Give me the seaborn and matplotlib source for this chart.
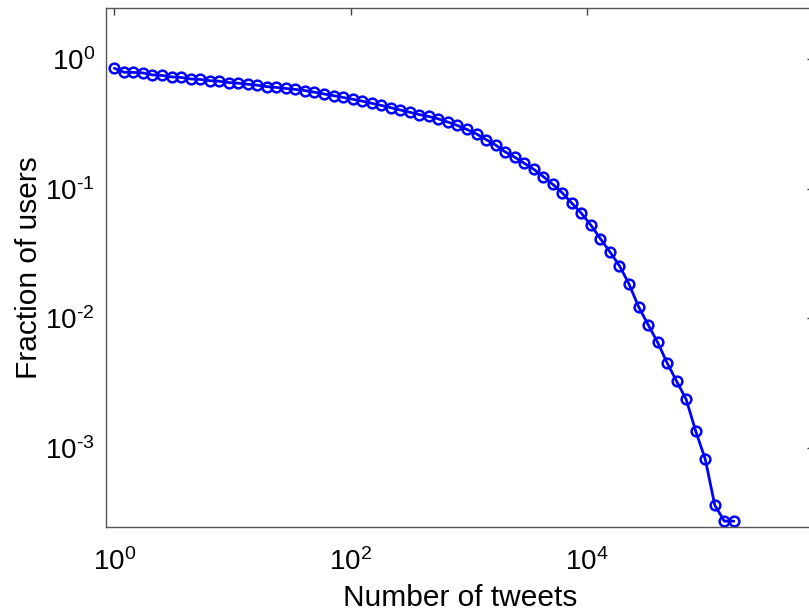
import numpy as np
import pandas as pd
import matplotlib
matplotlib.use("Agg")
from matplotlib import pyplot as plt
from matplotlib.ticker import LogLocator, NullLocator, FuncFormatter
import seaborn as sns

# number of tweets (bin centres, log spaced) and fraction of users
tweets = [1, 1.204, 1.450, 1.746, 2.102, 2.532, 3.049, 3.672, 4.421, 5.324,
          6.412, 7.721, 9.298, 11.20, 13.48, 16.24, 19.55, 23.55, 28.36, 34.15,
          41.11, 49.52, 59.63, 71.81, 86.48, 104.1, 125.4, 151.0, 181.8, 219.0,
          263.6, 317.5, 382.3, 460.4, 554.4, 667.7, 804.0, 968.1, 1166, 1404,
          1690, 2036, 2452, 2952, 3555, 4281, 5155, 6208, 7476, 9001,
          10840, 13050, 15720, 18930, 22790, 27450, 33050, 39800, 47930, 57720,
          69500, 83700, 100800, 121400, 146200, 176000]
fraction = [0.848, 0.790, 0.787, 0.780, 0.753, 0.746, 0.727, 0.720, 0.701, 0.695,
            0.680, 0.673, 0.657, 0.650, 0.638, 0.627, 0.611, 0.603, 0.592, 0.582,
            0.570, 0.554, 0.537, 0.521, 0.505, 0.489, 0.473, 0.455, 0.438, 0.421,
            0.404, 0.388, 0.372, 0.360, 0.345, 0.326, 0.307, 0.286, 0.264, 0.239,
            0.217, 0.192, 0.175, 0.157, 0.141, 0.124, 0.108, 0.0927, 0.0772, 0.0646,
            0.0523, 0.0411, 0.0325, 0.0254, 0.0184, 0.0123, 0.00894, 0.00654, 0.00453, 0.00327,
            0.00237, 0.00135, 0.000820, 0.000362, 0.000273, 0.000273]

df = pd.DataFrame({"tweets": tweets, "fraction": fraction})

sns.set_style("white")
plt.rcParams["font.family"] = ["Liberation Sans", "DejaVu Sans"]
plt.rcParams["mathtext.fontset"] = "custom"
plt.rcParams["mathtext.rm"] = "Liberation Sans"
plt.rcParams["mathtext.it"] = "Liberation Sans"


def pow10(v, pos):
    e = int(round(np.log10(v)))
    s = str(e).replace("-", "\u2010")
    return "$10^{" + s + "}$"


fig = plt.figure(figsize=(8.09, 6.14), dpi=100)
ax = fig.add_axes([106 / 809, 87 / 614, 708 / 809, 519 / 614])

sns.lineplot(data=df, x="tweets", y="fraction", ax=ax, color="#0000ff",
             linewidth=2, marker="o", markersize=7, markerfacecolor="none",
             markeredgecolor="#0000ff", markeredgewidth=1.8)

ax.set_xscale("log")
ax.set_yscale("log")
ax.set_xlim(0.85, 8.4e5)
ax.set_ylim(2.46e-4, 2.47)

ax.set_xticks([1, 1e2, 1e4])
ax.xaxis.set_minor_locator(NullLocator())
ax.yaxis.set_major_locator(LogLocator(base=10, numticks=10))
ax.yaxis.set_minor_locator(LogLocator(base=10, subs=np.arange(2, 10), numticks=20))
ax.xaxis.set_major_formatter(FuncFormatter(pow10))
ax.yaxis.set_major_formatter(FuncFormatter(pow10))

ax.tick_params(which="both", direction="in", top=True, right=True, colors="#444444",
               labelcolor="black", labelsize=20)
ax.tick_params(which="major", length=5, width=1)
ax.tick_params(which="minor", length=3, width=1)
ax.tick_params(axis="y", which="major", pad=8)
ax.tick_params(axis="x", which="major", pad=15)

for s in ax.spines.values():
    s.set_color("#555555")
    s.set_linewidth(1)

ax.set_xlabel("Number of tweets", fontsize=21.5, labelpad=6, color="black")
ax.set_ylabel("Fraction of users", fontsize=21.5, labelpad=2, color="black")

fig.savefig("out.png", dpi=100)
